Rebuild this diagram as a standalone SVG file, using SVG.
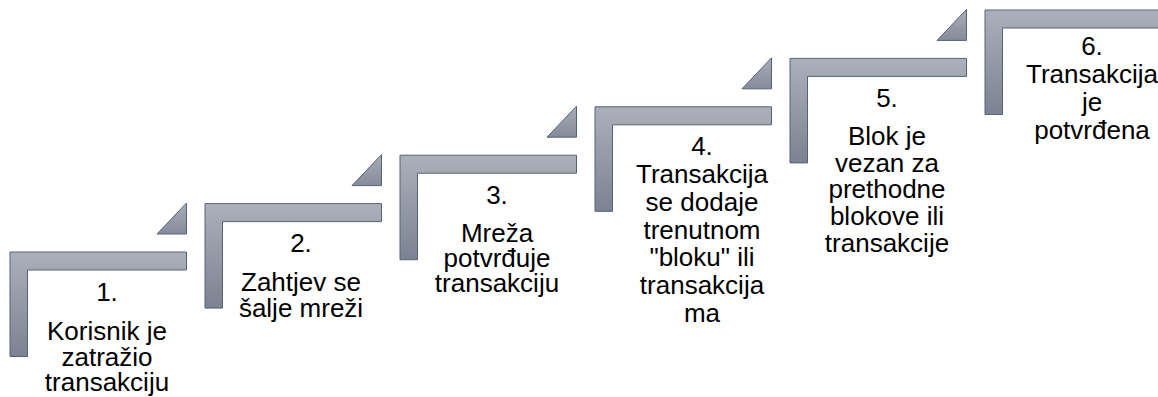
<svg xmlns="http://www.w3.org/2000/svg" width="1158" height="397" viewBox="0 0 1158 397">
<defs>
<linearGradient id="g" x1="0" y1="0" x2="0" y2="1">
<stop offset="0" stop-color="#acb0ba"/>
<stop offset="1" stop-color="#7c8292"/>
</linearGradient>
<linearGradient id="gt" x1="0" y1="0" x2="0" y2="1">
<stop offset="0" stop-color="#a9adb8"/>
<stop offset="1" stop-color="#868b99"/>
</linearGradient>
<path id="L" d="M0,0 H176.5 V18 H17.5 V104.5 H0 Z"/>
</defs>
<style>
.shape{fill:url(#g);stroke:#56627a;stroke-width:1}
.tri{fill:url(#gt);stroke:#56627a;stroke-width:1}
text{font-family:"Liberation Sans",Arial,sans-serif;font-size:26px;fill:#000;text-anchor:middle}
</style>
<rect width="1158" height="397" fill="#fff"/>
<g id="connectors">
<path class="tri" d="M157,234 L186.5,203 L186.5,234 Z"/>
<path class="tri" d="M352,185.6 L381.5,154.6 L381.5,185.6 Z"/>
<path class="tri" d="M547,137.2 L576.5,106.2 L576.5,137.2 Z"/>
<path class="tri" d="M742,88.8 L771.5,57.8 L771.5,88.8 Z"/>
<path class="tri" d="M937,40.4 L966.5,9.4 L966.5,40.4 Z"/>
</g>
<g id="step1">
<use href="#L" class="shape" transform="translate(10,252)"/>
<text x="107" y="301">1.<tspan x="107" dy="39">Korisnik je</tspan><tspan x="107" dy="26">zatražio</tspan><tspan x="107" dy="25">transakciju</tspan></text>
</g>
<g id="step2">
<use href="#L" class="shape" transform="translate(205,203.6)"/>
<text x="301" y="252">2.<tspan x="301" dy="39">Zahtjev se</tspan><tspan x="301" dy="26">šalje mreži</tspan></text>
</g>
<g id="step3">
<use href="#L" class="shape" transform="translate(400,155.2)"/>
<text x="497" y="204">3.<tspan x="497" dy="38">Mreža</tspan><tspan x="497" dy="25">potvrđuje</tspan><tspan x="497" dy="25">transakciju</tspan></text>
</g>
<g id="step4">
<use href="#L" class="shape" transform="translate(595,106.8)"/>
<text x="702" y="155">4.<tspan x="702" dy="28">Transakcija</tspan><tspan x="702" dy="28">se dodaje</tspan><tspan x="702" dy="28">trenutnom</tspan><tspan x="702" dy="27">"bloku" ili</tspan><tspan x="702" dy="28">transakcija</tspan><tspan x="702" dy="28">ma</tspan></text>
</g>
<g id="step5">
<use href="#L" class="shape" transform="translate(790,58.4)"/>
<text x="887" y="107">5.<tspan x="887" dy="38">Blok je</tspan><tspan x="887" dy="27">vezan za</tspan><tspan x="887" dy="26">prethodne</tspan><tspan x="887" dy="27">blokove ili</tspan><tspan x="887" dy="27">transakcije</tspan></text>
</g>
<g id="step6">
<use href="#L" class="shape" transform="translate(985,10)"/>
<text x="1092" y="55">6.<tspan x="1092" dy="28">Transakcija</tspan><tspan x="1092" dy="28">je</tspan><tspan x="1092" dy="28">potvrđena</tspan></text>
</g>
</svg>
